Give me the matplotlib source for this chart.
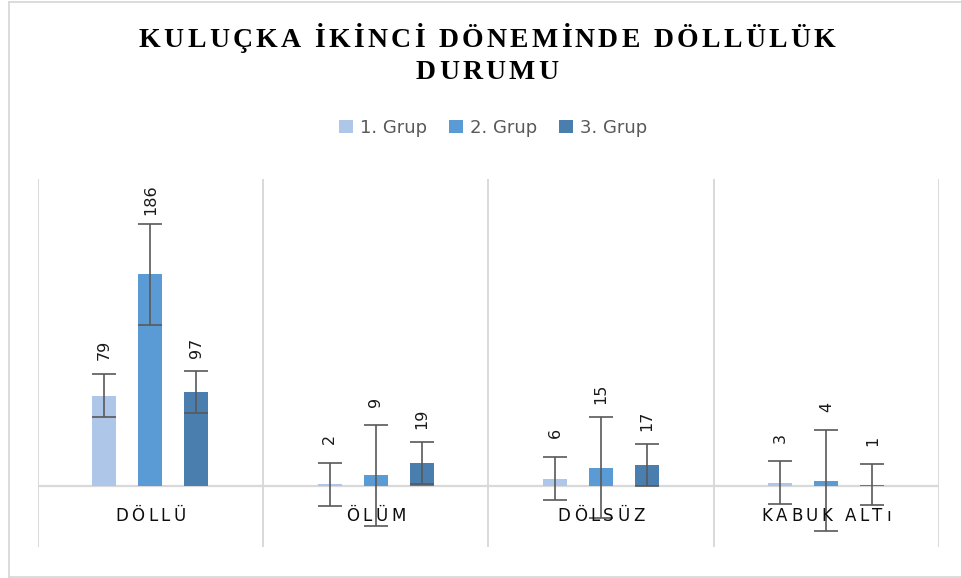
"""
Kuluçka ikinci döneminde döllülük durumu - grouped bar chart with error bars.
"""
import numpy as np
import matplotlib
matplotlib.use("Agg")
import matplotlib.pyplot as plt
from matplotlib.lines import Line2D
from matplotlib.patches import Patch
from matplotlib.transforms import IdentityTransform

categories = ["DÖLLÜ", "ÖLÜM", "DÖLSÜZ", "KABUK ALTı"]
groups = ["1. Grup", "2. Grup", "3. Grup"]

# bar heights as drawn
grup1 = [73.5, 1.5, 6, 2.5]
grup2 = [172.5, 8.5, 15, 4.3]
grup3 = [76.5, 18.7, 17, 1]
heights = [grup1, grup2, grup3]

# data label texts
labels1 = ["79", "2", "6", "3"]
labels2 = ["186", "9", "15", "4"]
labels3 = ["97", "19", "17", "1"]
labels = [labels1, labels2, labels3]

# error bar half-lengths
err1 = [17.7, 17.5, 17.6, 17.6]
err2 = [41.2, 41.0, 41.0, 41.0]
err3 = [16.7, 16.9, 17.0, 16.7]
errors = [err1, err2, err3]

colors = ["#aec7e8", "#5b9bd5", "#4a7eaf"]
GRID = "#d9d9d9"

W, H, DPI = 961, 578, 100


def spaced_text(fig, x_px, y_px, s, spacing, **kw):
    """Draw text centred at (x_px, y_px) display pixels with extra letter spacing."""
    r = fig.canvas.get_renderer()
    widths = []
    for ch in s:
        t = fig.text(0, 0, ch, transform=IdentityTransform(), **kw)
        widths.append(t.get_window_extent(r).width)
        t.remove()
    total = sum(widths) + spacing * (len(s) - 1)
    x = x_px - total / 2
    for ch, w in zip(s, widths):
        fig.text(x, y_px, ch, transform=IdentityTransform(), ha="left",
                 va="baseline", **kw)
        x += w + spacing


def main():
    fig = plt.figure(figsize=(W / DPI, H / DPI), dpi=DPI)
    ax = fig.add_axes([37.7 / W, 1 - 547.3 / H, (939 - 37.7) / W, (547.3 - 179) / H])

    x = np.arange(len(categories))
    bw = 0.107
    step = 0.204
    ax.set_xlim(-0.5, len(categories) - 0.5)
    ax.set_ylim(-50, 250)

    # vertical separators and zero axis
    ax.vlines(np.arange(len(categories) + 1) - 0.5, -50, 250, color=GRID,
              linewidth=1.4, zorder=0)
    ax.axhline(0, color=GRID, linewidth=1.6, zorder=1)

    for g in range(3):
        xs = x + (g - 1) * step
        ax.bar(xs, heights[g], width=bw, color=colors[g], zorder=2)
        ax.errorbar(xs, heights[g], yerr=errors[g], fmt="none", ecolor="#595959",
                    elinewidth=1.2, capsize=8.6, capthick=1.2, zorder=5)
        for xi, h, e, lab in zip(xs, heights[g], errors[g], labels[g]):
            ax.annotate(lab, (xi, h + e), xytext=(0, 17), textcoords="offset points",
                        rotation=90, ha="center", va="center", fontsize=11.5,
                        color="#1a1a1a", family="DejaVu Sans", zorder=6)

    ax.set_xticks([])
    ax.set_yticks([])
    for sp in ax.spines.values():
        sp.set_visible(False)

    # category labels, letter spaced, below zero line
    for xi, cat in zip(x, categories):
        px, py = ax.transData.transform((xi, 0))
        spaced_text(fig, px, py - 35, cat, 3.5, fontsize=12, color="#0d0d0d",
                    family="DejaVu Sans", zorder=3)

    # title
    tkw = dict(fontsize=20, fontweight="bold", family="Liberation Serif", color="black")
    spaced_text(fig, 487, H - 47, "KULUÇKA İKİNCİ DÖNEMİNDE DÖLLÜLÜK", 3.3, **tkw)
    spaced_text(fig, 487, H - 79, "DURUMU", 3.3, **tkw)

    # legend
    handles = [Patch(facecolor=c, edgecolor="none") for c in colors]
    fig.legend(handles, groups, loc="center", ncol=3,
               bbox_to_anchor=(493 / W, 1 - 128 / H), frameon=False,
               prop={"family": "DejaVu Sans", "size": 13},
               labelcolor="#595959", handlelength=0.78, handleheight=0.72,
               handletextpad=0.4, columnspacing=1.2)

    # chart border
    fig.add_artist(Line2D([8.5 / W, 8.5 / W], [1 - 576.5 / H, 1 - 1.5 / H],
                          color=GRID, linewidth=1.3, transform=fig.transFigure))
    fig.add_artist(Line2D([8.5 / W, 1.0], [1 - 1.5 / H, 1 - 1.5 / H],
                          color=GRID, linewidth=1.3, transform=fig.transFigure))
    fig.add_artist(Line2D([8.5 / W, 1.0], [1 - 576.5 / H, 1 - 576.5 / H],
                          color=GRID, linewidth=1.3, transform=fig.transFigure))

    fig.savefig("out.png", dpi=DPI)
    plt.close(fig)


if __name__ == "__main__":
    main()
